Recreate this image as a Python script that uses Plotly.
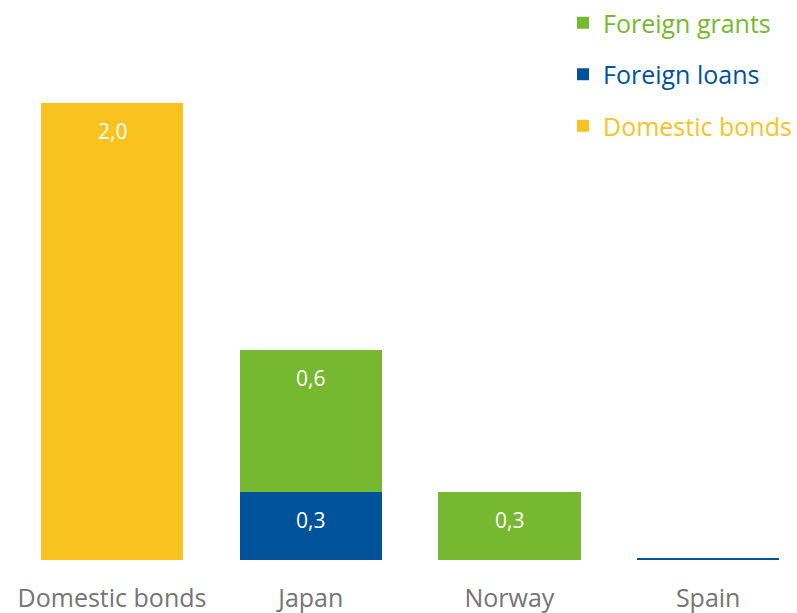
import plotly.graph_objects as go

categories = ["Domestic bonds", "Japan", "Norway", "Spain"]
domestic_bonds = [2.0, 0, 0, 0]
foreign_loans = [0, 0.30, 0, 0.006]
foreign_grants = [0, 0.62, 0.30, 0]

colors = {"Domestic bonds": "#F9C31F", "Foreign loans": "#00529B", "Foreign grants": "#76B82F"}

# stacking order bottom -> top, with legend rank (grants listed first)
series = [("Domestic bonds", domestic_bonds, 3), ("Foreign loans", foreign_loans, 2), ("Foreign grants", foreign_grants, 1)]

fig = go.Figure()
for name, vals, rank in series:
    c = colors[name]
    fig.add_trace(go.Bar(x=categories, y=vals, name=f"<span style='color:{c}'>{name}</span>",
                         marker=dict(color=c, line=dict(width=0)), width=0.715,
                         legendgroup=name, legendrank=rank, hoverinfo="skip"))

# value labels near the top of each segment
base = [0] * len(categories)
for name, vals, rank in series:
    for i, v in enumerate(vals):
        top = base[i] + v
        if v >= 0.05:
            fig.add_annotation(x=categories[i], y=top, yshift=-28, text=f"{v:.1f}".replace(".", ","),
                               showarrow=False, font=dict(color="white", size=21, family="Open Sans"))
        base[i] = top

fig.update_layout(
    barmode="stack",
    width=797, height=613,
    margin=dict(l=0, r=0, t=0, b=53),
    plot_bgcolor="white", paper_bgcolor="white",
    font=dict(family="Open Sans"),
    showlegend=True,
    legend=dict(x=1, xanchor="right", y=1.004, yanchor="top", traceorder="grouped",
                tracegroupgap=16, font=dict(size=25), itemwidth=30, bgcolor="rgba(0,0,0,0)"),
)
fig.update_xaxes(range=[-0.5637, 3.447], showline=False, ticks="", showgrid=False, automargin=False,
                 ticklabelstandoff=21, tickfont=dict(size=25, color="#757575"))
fig.update_yaxes(range=[0, 2.444], visible=False, showgrid=False)

fig.write_html("out.html", config={"displayModeBar": False},
               post_script="document.body.style.margin='0';")
